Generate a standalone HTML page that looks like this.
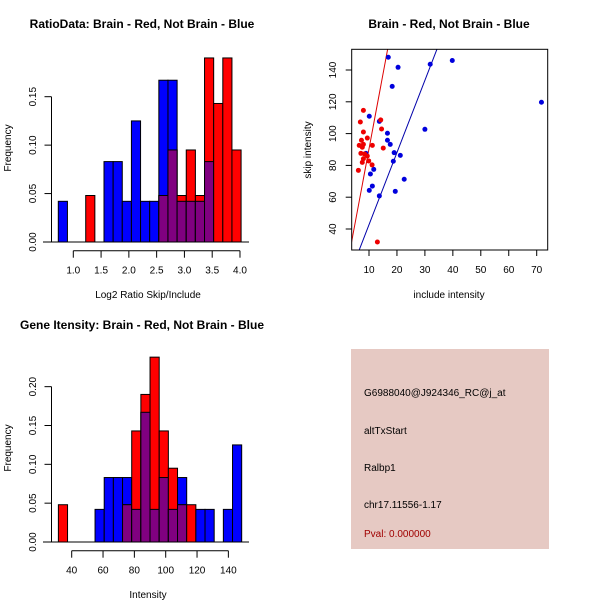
<!DOCTYPE html>
<html><head><meta charset="utf-8"><style>
body{margin:0;background:#fff;}
svg{display:block;font-family:"Liberation Sans",sans-serif;}
</style></head><body>
<svg id="chart" width="600" height="600" viewBox="0 0 600 600">
<text x="142" y="28" text-anchor="middle" font-size="12" font-weight="bold">RatioData: Brain - Red, Not Brain - Blue</text>
<text x="449" y="28" text-anchor="middle" font-size="12" font-weight="bold">Brain - Red, Not Brain - Blue</text>
<text x="142" y="329" text-anchor="middle" font-size="12" font-weight="bold">Gene Itensity: Brain - Red, Not Brain - Blue</text>
<g id="h1"></g>
<g id="sc"></g>
<g id="h2"></g>
<g>
<rect x="351" y="349" width="198" height="200" fill="#e6c9c3"/>
<text x="364" y="396" font-size="10">G6988040@J924346_RC@j_at</text>
<text x="364" y="434" font-size="10">altTxStart</text>
<text x="364" y="471" font-size="10">Ralbp1</text>
<text x="364" y="508" font-size="10">chr17.11556-1.17</text>
<text x="364" y="537" font-size="10" fill="#a00000">Pval: 0.000000</text>
</g>
</svg>
<script>
// Histogram 1 data (20 bins)
const h1Start = 0.73, h1Width = 0.1645;
const h1Blue = [0.042,0,0,0,0,0.083,0.083,0.042,0.125,0.042,0.042,0.167,0.167,0.042,0.042,0.042,0.083,0,0,0];
const h1Red  = [0,0,0,0.048,0,0,0,0,0,0,0,0.048,0.095,0.048,0.095,0.048,0.190,0.143,0.190,0.095];
const h1XTicks = ["1.0","1.5","2.0","2.5","3.0","3.5","4.0"];
const h1YTicks = ["0.00","0.05","0.10","0.15"];
// Histogram 2 data (20 bins)
const h2Start = 31.5, h2Width = 5.85;
const h2Blue = [0,0,0,0,0.042,0.083,0.083,0.083,0.042,0.167,0.042,0.083,0.042,0.083,0,0.042,0.042,0,0.042,0.125];
const h2Red  = [0.048,0,0,0,0,0,0,0.048,0.143,0.190,0.238,0.143,0.095,0.048,0.048,0,0,0,0,0];
const h2XTicks = ["40","60","80","100","120","140"];
const h2YTicks = ["0.00","0.05","0.10","0.15","0.20"];
// Scatter data
const blueX = [16.9,20.4,18.3,31.9,39.8,71.7,10.1,13.7,16.6,16.6,17.6,30,19,21.2,18.7,22.6,11.7,10.5,11.2,10.1,13.7,19.4,8.9];
const blueY = [148,141.7,129.7,143.6,146,119.7,110.9,107.7,100.2,95.8,93.2,102.7,88,86.3,82.6,71.3,77.5,74.6,67,64.3,60.8,63.7,87.6];
const redX = [8,6.9,14.2,14.5,8,7.3,9.4,6.5,7.6,11.2,15.1,8,7.1,8.4,9.4,8,7.6,9.9,6.2,11.1,13];
const redY = [114.6,107.3,108.6,102.9,101,95.8,97.2,92.6,91.4,92.6,90.9,93.2,87.6,87.2,85.9,84.2,81.9,82.8,76.9,80.3,31.8];
const redFit = [-3.6, 9.4];   // intercept, slope
const blueFit = [-2.7, 4.54];
const scXTicks = ["10","20","30","40","50","60","70"];
const scYTicks = ["40","60","80","100","120","140"];

const NS="http://www.w3.org/2000/svg";
function mk(parent,tag,attrs,text){const e=document.createElementNS(NS,tag);for(const k in attrs)e.setAttribute(k,attrs[k]);if(text!==undefined)e.textContent=text;parent.appendChild(e);return e;}

function hist(g,start,w,blue,red,xt,yt,xs,ys,axisY,xlab,xlabY,yTop){
  const n=blue.length;
  const X=v=>xs[0]+(v-xs[1])*xs[2];
  const Y=v=>ys[0]-v*ys[1];
  for(let i=0;i<n;i++){
    const x0=X(start+i*w),x1=X(start+(i+1)*w);
    const b=blue[i],r=red[i];
    if(b>0){const e=mk(g,'rect',{x:x0,y:Y(b),width:x1-x0,height:Y(0)-Y(b),fill:'#0000ff',stroke:'#000','stroke-width':1});
      }
    if(r>0){const e=mk(g,'rect',{x:x0,y:Y(r),width:x1-x0,height:Y(0)-Y(r),fill:'#ff0000',stroke:'#000','stroke-width':1});
      }
    const m=Math.min(b,r);
    if(m>0){const e=mk(g,'rect',{x:x0,y:Y(m),width:x1-x0,height:Y(0)-Y(m),fill:'#800080',stroke:'#000','stroke-width':1});
      }
  }
  const bl=mk(g,'line',{x1:43,x2:249,y1:Y(0),y2:Y(0),stroke:'#000'});
  
  // y axis
  const yv=yt.map(Number);
  const ya=mk(g,'line',{x1:51.5,x2:51.5,y1:Y(0),y2:Y(yv[yv.length-1]),stroke:'#000'});
  
  yt.forEach(t=>{const y=Y(Number(t));mk(g,'line',{x1:44.5,x2:51.5,y1:y,y2:y,stroke:'#000'});
    const tx=mk(g,'text',{x:0,y:0,'font-size':10,'text-anchor':'middle',transform:`translate(36,${y}) rotate(-90)`},t);
    });
  const xv=xt.map(Number);
  const xa=mk(g,'line',{x1:X(xv[0]),x2:X(xv[xv.length-1]),y1:axisY,y2:axisY,stroke:'#000'});
  
  xt.forEach(t=>{const x=X(Number(t));mk(g,'line',{x1:x,x2:x,y1:axisY,y2:axisY+7,stroke:'#000'});
    const tx=mk(g,'text',{x:x,y:axisY+23,'font-size':10,'text-anchor':'middle'},t);
    });
  const xl=mk(g,'text',{x:148,y:xlabY,'font-size':10,'text-anchor':'middle'},xlab);
  
  const yl=mk(g,'text',{x:0,y:0,'font-size':10,'text-anchor':'middle',transform:`translate(11,${yTop}) rotate(-90)`},'Frequency');
  
}
hist(document.getElementById('h1'),h1Start,h1Width,h1Blue,h1Red,h1XTicks,h1YTicks,[73.3,1.0,55.56],[242,968.7],250.7,'Log2 Ratio Skip/Include',298,148);
hist(document.getElementById('h2'),h2Start,h2Width,h2Blue,h2Red,h2XTicks,h2YTicks,[71.7,40,1.5667],[542,776.7],550.7,'Intensity',598,448);

// scatter
(function(){
  const g=document.getElementById('sc');
  const L=351.7,R=547.7,T=49.3,B=250;
  const X=v=>369+(v-10)*2.795;
  const Y=v=>70+(140-v)*1.59;
  const cp=mk(g,'clipPath',{id:'scclip'});mk(cp,'rect',{x:L,y:T,width:R-L,height:B-T});
  [[redFit,'#dd0000','red-fit-line'],[blueFit,'#0000aa','blue-fit-line']].forEach(([f,c,nm])=>{
    const x0=0,x1=80;
    const ln=mk(g,'line',{x1:X(x0),y1:Y(f[0]+f[1]*x0),x2:X(x1),y2:Y(f[0]+f[1]*x1),stroke:c,'clip-path':'url(#scclip)'});
    });
  blueX.forEach((x,i)=>{const c=mk(g,'circle',{cx:X(x),cy:Y(blueY[i]),r:2.5,fill:'#0000dd'});
    });
  redX.forEach((x,i)=>{const c=mk(g,'circle',{cx:X(x),cy:Y(redY[i]),r:2.5,fill:'#ee0000'});
    });
  const box=mk(g,'rect',{x:L,y:T,width:R-L,height:B-T,fill:'none',stroke:'#000'});
  
  scXTicks.forEach(t=>{const x=X(Number(t));mk(g,'line',{x1:x,x2:x,y1:B,y2:B+6,stroke:'#000'});
    const tx=mk(g,'text',{x:x,y:B+23,'font-size':10,'text-anchor':'middle'},t);
    });
  scYTicks.forEach(t=>{const y=Y(Number(t));mk(g,'line',{x1:L,x2:L-6,y1:y,y2:y,stroke:'#000'});
    const tx=mk(g,'text',{x:0,y:0,'font-size':10,'text-anchor':'middle',transform:`translate(336,${y}) rotate(-90)`},t);
    });
  const xl=mk(g,'text',{x:449,y:298,'font-size':10,'text-anchor':'middle'},'include intensity');
  
  const yl=mk(g,'text',{x:0,y:0,'font-size':10,'text-anchor':'middle',transform:'translate(311,150) rotate(-90)'},'skip intensity');
  
})();
</script>
</body></html>
